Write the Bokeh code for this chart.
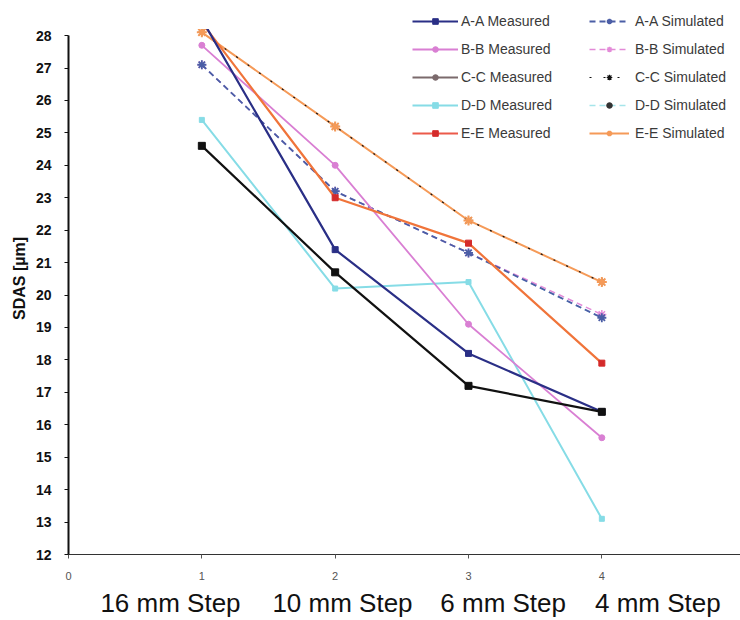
from bokeh.plotting import figure
from bokeh.models import LinearAxis, FixedTicker, Legend, LegendItem, BoxAnnotation
from bokeh.embed import file_html
from bokeh.resources import INLINE

# ---- data ----
steps = [1, 2, 3, 4]
step_labels = ["16 mm Step", "10 mm Step", "6 mm Step", "4 mm Step"]
x_ticks = [0, 1, 2, 3, 4]
y_ticks = list(range(12, 29))

aa_meas = [28.5, 21.4, 18.2, 16.4]
bb_meas = [27.7, 24.0, 19.1, 15.6]
cc_meas = [24.6, 20.7, 17.2, 16.4]
dd_meas = [25.4, 20.2, 20.4, 13.1]
ee_meas = [28.4, 23.0, 21.6, 17.9]

aa_sim = [27.1, 23.2, 21.3, 19.3]
bb_sim = [27.1, 23.2, 21.3, 19.4]
cc_sim = [28.1, 25.2, 22.3, 20.4]
dd_sim = [27.1, 23.2, 21.3, 19.3]
ee_sim = [28.1, 25.2, 22.3, 20.4]

FONT = "Liberation Sans"
NAN = float("nan")

p = figure(width=740, height=620, output_backend="svg", toolbar_location=None,
           x_range=(0, 5.04), y_range=(12, 29.02),
           min_border_left=68, min_border_right=0, min_border_top=2, min_border_bottom=0)
p.outline_line_color = None
p.grid.visible = False
p.background_fill_color = "white"

# axes
p.xaxis.ticker = FixedTicker(ticks=x_ticks)
p.xaxis.minor_tick_line_color = None
p.xaxis.major_tick_out = 4
p.xaxis.major_tick_in = 0
p.xaxis.major_label_standoff = 13
p.xaxis.major_label_text_font = FONT
p.xaxis.major_label_text_font_size = "11px"
p.xaxis.major_label_text_color = "#555555"
p.xaxis.axis_line_color = "#333333"
p.xaxis.axis_line_width = 1.2
p.xaxis.major_tick_line_color = "#555555"

p.yaxis.ticker = FixedTicker(ticks=y_ticks)
p.yaxis.bounds = (12, 28)
p.yaxis.minor_tick_line_color = None
p.yaxis.major_tick_out = 4
p.yaxis.major_tick_in = 0
p.yaxis.major_label_standoff = 13
p.yaxis.major_label_text_font = FONT
p.yaxis.major_label_text_font_size = "14px"
p.yaxis.major_label_text_font_style = "bold"
p.yaxis.major_label_text_color = "#111111"
p.yaxis.axis_line_color = "#111111"
p.yaxis.axis_line_width = 2
p.yaxis.major_tick_line_color = "#111111"
p.yaxis.axis_label = "SDAS [µm]"
p.yaxis.axis_label_text_font = FONT
p.yaxis.axis_label_text_font_size = "16px"
p.yaxis.axis_label_text_font_style = "bold"
p.yaxis.axis_label_text_color = "#111111"
p.yaxis.axis_label_standoff = 5

# category labels as a second axis beneath
cat_pos = [0.765, 2.055, 3.26, 4.42]
cat_axis = LinearAxis(ticker=FixedTicker(ticks=cat_pos),
                      major_label_overrides={pos: lab for pos, lab in zip(cat_pos, step_labels)},
                      axis_line_color=None, major_tick_line_color=None, minor_tick_line_color=None,
                      major_tick_out=0, major_tick_in=0,
                      major_label_standoff=5,
                      major_label_text_font=FONT, major_label_text_font_size="26px",
                      major_label_text_color="#111111")
p.add_layout(cat_axis, "below")

# colours
NAVY = "#2a2f86"
PINK = "#d97fd3"
CC_M = "#111111"
CYAN = "#86dce6"
EE_L = "#f0743a"
EE_M = "#d42b2b"
AA_S = "#4b5ea6"
BB_S = "#e38ad8"
CC_S = "#111111"
DD_S = "#a6e5ea"
EE_S = "#f59a58"

# simulated (drawn first)
r_dd_s = p.line(steps, dd_sim, line_color=DD_S, line_width=1.5, line_dash="6 4")
m_dd_s = p.scatter(steps, dd_sim, marker="circle", size=3, fill_color="#333333", line_color="#333333")
r_bb_s = p.line(steps, bb_sim, line_color=BB_S, line_width=1.5, line_dash="6 4")
m_bb_s = p.scatter(steps, bb_sim, marker="asterisk", size=9, line_color=BB_S, line_width=1.5)
r_aa_s = p.line(steps, aa_sim, line_color=AA_S, line_width=1.8, line_dash="6 4")
m_aa_s = p.scatter(steps, aa_sim, marker="asterisk", size=9, line_color=AA_S, line_width=1.8)
r_ee_s = p.line(steps, ee_sim, line_color=EE_S, line_width=2)
r_cc_s = p.line(steps, cc_sim, line_color=CC_S, line_width=1.2, line_dash="2 12")
m_cc_s = p.scatter(steps, cc_sim, marker="asterisk", size=8, line_color=CC_S, line_width=1.2)
m_ee_s = p.scatter(steps, ee_sim, marker="asterisk", size=10, line_color=EE_S, line_width=2)

# measured
r_dd_m = p.line(steps, dd_meas, line_color=CYAN, line_width=2)
m_dd_m = p.scatter(steps, dd_meas, marker="square", size=5, fill_color=CYAN, line_color=CYAN)
r_bb_m = p.line(steps, bb_meas, line_color=PINK, line_width=1.8)
m_bb_m = p.scatter(steps, bb_meas, marker="circle", size=6, fill_color=PINK, line_color=PINK)
r_ee_m = p.line(steps, ee_meas, line_color=EE_L, line_width=2.2)
m_ee_m = p.scatter(steps, ee_meas, marker="square", size=6, fill_color=EE_M, line_color=EE_M)
r_aa_m = p.line(steps, aa_meas, line_color=NAVY, line_width=2.2)
m_aa_m = p.scatter(steps, aa_meas, marker="square", size=6, fill_color=NAVY, line_color=NAVY)
r_cc_m = p.line(steps, cc_meas, line_color=CC_M, line_width=2.2)
m_cc_m = p.scatter(steps, cc_meas, marker="square", size=7, fill_color=CC_M, line_color=CC_M)

# plot area ends at 28: hide anything above it
p.add_layout(BoxAnnotation(bottom=28.2, fill_color="white", fill_alpha=1, line_alpha=0))

# legend-only swatches (key colours as in the original key); NaN data draws nothing in the plot
leg_cc_l = p.line([1, 2], [NAN, NAN], line_color="#7b6a6c", line_width=2.2)
leg_cc_m = p.scatter([1], [NAN], marker="circle", size=6, fill_color="#7b6a6c", line_color="#7b6a6c")
leg_ee_l = p.line([1, 2], [NAN, NAN], line_color="#ec5a4a", line_width=2.2)

def make_legend(items, loc, standoff, gw):
    lg = Legend(items=items, location=loc, orientation="vertical",
                label_text_font=FONT, label_text_font_size="14px", label_text_color="#3a3a3a",
                label_height=20, glyph_height=14, glyph_width=gw, spacing=8,
                label_standoff=standoff, padding=0, margin=0,
                border_line_alpha=0, background_fill_alpha=0)
    p.add_layout(lg)

make_legend([
    LegendItem(label="A-A Measured", renderers=[r_aa_m, m_aa_m]),
    LegendItem(label="B-B Measured", renderers=[r_bb_m, m_bb_m]),
    LegendItem(label="C-C Measured", renderers=[leg_cc_l, leg_cc_m]),
    LegendItem(label="D-D Measured", renderers=[r_dd_m, m_dd_m]),
    LegendItem(label="E-E Measured", renderers=[leg_ee_l, m_ee_m]),
], (344, 411), 3, 46)

make_legend([
    LegendItem(label="A-A Simulated", renderers=[r_aa_s, m_aa_s]),
    LegendItem(label="B-B Simulated", renderers=[r_bb_s, m_bb_s]),
    LegendItem(label="C-C Simulated", renderers=[r_cc_s, m_cc_s]),
    LegendItem(label="D-D Simulated", renderers=[r_dd_s, m_dd_s]),
    LegendItem(label="E-E Simulated", renderers=[r_ee_s, m_ee_s]),
], (521, 411), 6, 40)

open("out.html", "w").write(file_html(p, INLINE))
